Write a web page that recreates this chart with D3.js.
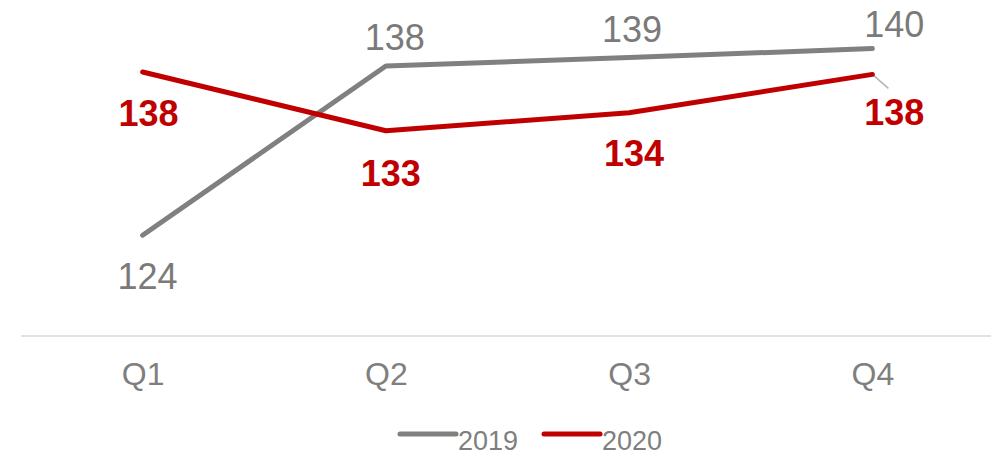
<!DOCTYPE html>
<html>
<head>
<meta charset="utf-8">
<script src="https://cdn.jsdelivr.net/npm/d3@7"></script>
<style>
  html, body { margin: 0; padding: 0; background: #ffffff; }
  svg { display: block; font-family: "Liberation Sans", Arial, Helvetica, sans-serif; }
</style>
</head>
<body>
<svg id="chart" width="991" height="456"></svg>
<script>
// Quarterly index values for two years
const quarters = ["Q1", "Q2", "Q3", "Q4"];
const values2019 = [124.2, 138.3, 139.0, 139.75];
const values2020 = [137.8, 132.9, 134.4, 137.6];
const seriesNames = ["2019", "2020"];

const W = 991, H = 456;
const svg = d3.select("#chart");

const x = d3.scalePoint().domain(quarters).range([21, 994]).padding(0.5);
const y = d3.scaleLinear().domain([115.8, 143.8]).range([336, 0]);

const series = [
  { name: seriesNames[0], values: values2019, color: "#808080", labelColor: "#7a7a7a", weight: "normal",
    // label nudges (dx, dy from the point)
    nudge: [[5, 54], [9, -16], [3, -16], [22, -12]] },
  { name: seriesNames[1], values: values2020, color: "#c00000", labelColor: "#c00000", weight: "bold",
    nudge: [[6, 54], [5, 55], [5, 53], [22, 51]] }
];

// baseline
const axisY = y(y.domain()[0]);
svg.append("line")
  .attr("x1", 21).attr("x2", 994)
  .attr("y1", axisY).attr("y2", axisY)
  .attr("stroke", "#d9d9d9").attr("stroke-width", 1.5);

// category labels
const xAxis = d3.axisBottom(x).tickSize(0).tickPadding(0);
const gx = svg.append("g").attr("transform", `translate(0,${axisY + 49})`).call(xAxis);
gx.select(".domain").remove();
gx.selectAll("text")
  .attr("dy", 0)
  .attr("font-size", 32)
  .attr("font-family", "'Liberation Sans', Arial, sans-serif")
  .attr("fill", "#7f7f7f");

const line = d3.line()
  .x((d, i) => x(quarters[i]))
  .y(d => y(d));

// leader from the 2020 Q4 point to its label
{
  const px = x("Q4"), py = y(values2020[3]);
  svg.append("line")
    .attr("x1", px).attr("y1", py)
    .attr("x2", px + 16).attr("y2", py + 14)
    .attr("stroke", "#b4b4b4").attr("stroke-width", 1.5);
}

series.forEach(s => {
  svg.append("path")
    .datum(s.values)
    .attr("d", line)
    .attr("fill", "none")
    .attr("stroke", s.color)
    .attr("stroke-width", 5)
    .attr("stroke-linecap", "round")
    .attr("stroke-linejoin", "round");
});

series.forEach(s => {
  svg.append("g").selectAll("text")
    .data(s.values)
    .join("text")
    .attr("x", (d, i) => x(quarters[i]) + s.nudge[i][0])
    .attr("y", (d, i) => y(d) + s.nudge[i][1])
    .attr("text-anchor", "middle")
    .attr("font-size", 36)
    .attr("font-weight", s.weight)
    .attr("fill", s.labelColor)
    .text(d => d3.format(".0f")(d));
});

// legend
const legendX = [400, 544];
const legend = svg.append("g");
series.forEach((s, i) => {
  const g = legend.append("g").attr("transform", `translate(${legendX[i]},434)`);
  g.append("line")
    .attr("x1", 0).attr("x2", 56).attr("y1", 0).attr("y2", 0)
    .attr("stroke", s.color).attr("stroke-width", 5)
    .attr("stroke-linecap", "round");
  g.append("text")
    .attr("x", 58).attr("y", 15.5)
    .attr("font-size", 27)
    .attr("fill", "#7f7f7f")
    .text(s.name);
});
</script>
</body>
</html>
